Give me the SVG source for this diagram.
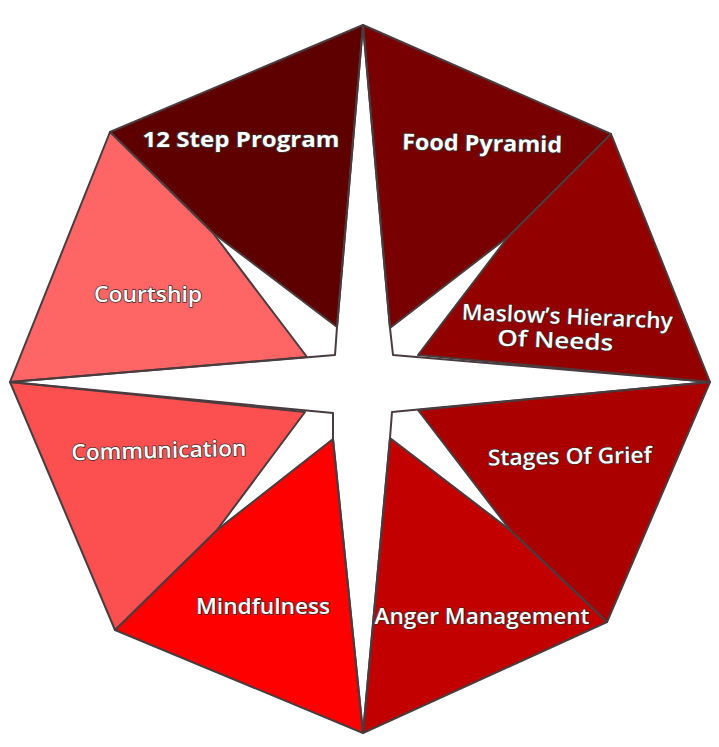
<svg xmlns="http://www.w3.org/2000/svg" width="719" height="747" viewBox="0 0 719 747">
<style>
.sec{stroke:#4a3c3e;stroke-width:2;stroke-linejoin:round}
.star{fill:none;stroke:#4a3c3e;stroke-width:2;stroke-linejoin:round}
.lbl{font-family:"Open Sans","Liberation Sans",sans-serif;font-size:22px;font-weight:600;fill:#ffffff;stroke:#3a2c2c;stroke-width:1.5;paint-order:stroke;stroke-linejoin:round;text-anchor:middle}
.b{font-weight:700;stroke-width:2}
</style>
<rect width="719" height="747" fill="#ffffff"/>
<g id="step12">
<polygon class="sec" fill="#5f0000" points="110,132 363,25 337,327 213,233"/>
<text class="lbl b" x="241" y="147" textLength="197" lengthAdjust="spacingAndGlyphs">12 Step Program</text>
</g>
<g id="food-pyramid">
<polygon class="sec" fill="#780000" points="363,25 611,134 508,237 390,328"/>
<text class="lbl b" x="482" y="151" transform="rotate(1 482 151)" textLength="160" lengthAdjust="spacingAndGlyphs">Food Pyramid</text>
</g>
<g id="maslow">
<polygon class="sec" fill="#930000" points="611,134 710,382 418,355 508,237"/>
<text class="lbl" x="567" y="324" transform="rotate(2.5 567 324)" textLength="211" lengthAdjust="spacingAndGlyphs">Maslow’s Hierarchy</text>
<text class="lbl" x="555" y="348" transform="rotate(2.5 555 348)" textLength="116" lengthAdjust="spacingAndGlyphs">Of Needs</text>
</g>
<g id="stages-of-grief">
<polygon class="sec" fill="#aa0000" points="710,382 607,622 510,530 418,410"/>
<text class="lbl" x="570" y="464" transform="rotate(-1 570 464)" textLength="164" lengthAdjust="spacingAndGlyphs">Stages Of Grief</text>
</g>
<g id="anger-management">
<polygon class="sec" fill="#c20000" points="607,622 363,733 390,438 510,530"/>
<text class="lbl" x="482" y="624" textLength="215" lengthAdjust="spacingAndGlyphs">Anger Management</text>
</g>
<g id="mindfulness">
<polygon class="sec" fill="#fe0000" points="363,733 115,630 217,530 333,439"/>
<text class="lbl" x="263" y="614" textLength="134" lengthAdjust="spacingAndGlyphs">Mindfulness</text>
</g>
<g id="communication">
<polygon class="sec" fill="#fc5050" points="115,630 10,382 305,412 217,530"/>
<text class="lbl" x="159" y="458" transform="rotate(-1.5 159 458)" textLength="175" lengthAdjust="spacingAndGlyphs">Communication</text>
</g>
<g id="courtship">
<polygon class="sec" fill="#fe6666" points="10,382 110,132 213,233 307,357"/>
<text class="lbl" x="148" y="302" textLength="108" lengthAdjust="spacingAndGlyphs">Courtship</text>
</g>
<g id="connectors">
<polygon class="star" points="363,25 390,328 393,355 710,382 392,412 390,438 363,733 333,439 333,413 10,382 335,355 337,327"/>
</g>
</svg>
